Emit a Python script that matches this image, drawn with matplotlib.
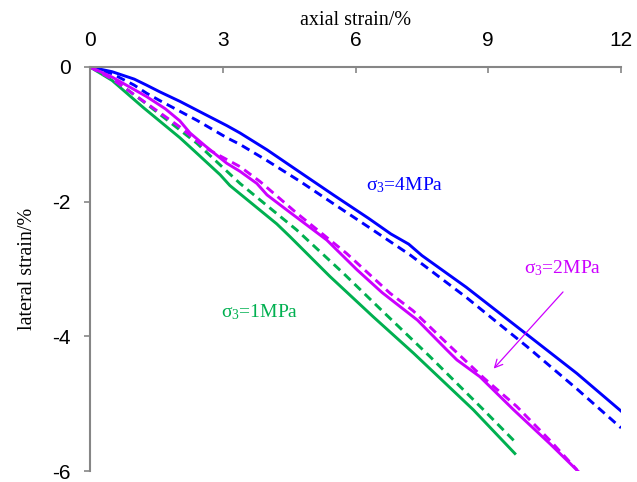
import matplotlib
matplotlib.use('Agg')
import matplotlib.pyplot as plt

plt.rcParams['axes.unicode_minus'] = False
plt.rcParams['mathtext.fontset'] = 'custom'
plt.rcParams['mathtext.rm'] = 'Liberation Serif'
plt.rcParams['mathtext.it'] = 'Liberation Serif:italic'

# axial strain (%) vs lateral strain (%), solid and dashed curves per confining pressure
x_4_solid = [0, 0.5, 1.0, 1.28, 1.58, 2.03, 2.5, 3.09, 3.39, 4.0, 4.67, 5.5, 6.3, 6.8, 7.2, 7.5, 8.5, 9.79, 11.0, 12.0]
y_4_solid = [0, -0.07, -0.18, -0.27, -0.37, -0.51, -0.67, -0.87, -0.98, -1.23, -1.53, -1.90, -2.25, -2.48, -2.63, -2.80, -3.27, -3.93, -4.55, -5.11]
x_4_dash = [0, 0.5, 1.0, 1.28, 1.58, 2.41, 3.09, 3.39, 4.0, 4.75, 5.5, 6.3, 7.23, 8.5, 9.87, 11.0, 12.0]
y_4_dash = [0, -0.10, -0.27, -0.39, -0.50, -0.79, -1.05, -1.15, -1.39, -1.70, -2.03, -2.38, -2.79, -3.42, -4.15, -4.78, -5.36]

x_2_solid = [0, 0.5, 1.28, 1.7, 2.03, 2.26, 2.6, 3.09, 3.39, 3.77, 4.0, 4.44, 5.35, 6.03, 6.6, 7.4, 8.06, 8.29, 8.81, 9.57, 10.4, 11.07]
y_2_solid = [0, -0.15, -0.44, -0.62, -0.80, -0.98, -1.17, -1.43, -1.55, -1.73, -1.90, -2.12, -2.57, -3.01, -3.35, -3.76, -4.20, -4.35, -4.60, -5.09, -5.60, -6.03]
x_2_dash = [0, 0.5, 1.28, 2.03, 2.6, 3.39, 3.84, 4.67, 5.80, 6.78, 7.3, 8.06, 8.9, 9.64, 10.4, 11.0]
y_2_dash = [0, -0.18, -0.54, -0.89, -1.20, -1.48, -1.70, -2.17, -2.77, -3.36, -3.62, -4.10, -4.62, -5.04, -5.55, -5.98]

x_1_solid = [0, 0.5, 1.2, 2.03, 2.33, 2.94, 3.16, 4.22, 4.52, 5.42, 6.40, 7.31, 8.66, 9.6]
y_1_solid = [0, -0.20, -0.60, -1.05, -1.23, -1.60, -1.76, -2.33, -2.52, -3.11, -3.71, -4.25, -5.09, -5.74]
x_1_dash = [0, 0.5, 1.28, 2.41, 3.39, 4.67, 5.72, 6.60, 7.68, 8.89, 9.64]
y_1_dash = [0, -0.17, -0.55, -1.13, -1.73, -2.42, -3.06, -3.62, -4.30, -5.09, -5.59]

blue = '#0000FF'
magenta = '#CC00FF'
green = '#00B050'

fig = plt.figure(figsize=(6.37, 4.82), dpi=100)
ax = fig.add_axes([0.1413, 0.0228, 0.8337, 0.8382])

lw = 2.1
dash = (0, (3.0, 1.9))
ax.plot(x_4_solid, y_4_solid, color=blue, lw=lw)
ax.plot(x_4_dash, y_4_dash, color=blue, lw=lw, linestyle=dash)
ax.plot(x_1_solid, y_1_solid, color=green, lw=lw)
ax.plot(x_1_dash, y_1_dash, color=green, lw=lw, linestyle=dash)
ax.plot(x_2_solid, y_2_solid, color=magenta, lw=lw)
ax.plot(x_2_dash, y_2_dash, color=magenta, lw=lw, linestyle=dash)

serif = 'Liberation Serif'
ax.text(7.12, -1.75, r'σ$_3$=4MPa', color=blue, fontsize=14, family=serif, ha='center', va='center')
ax.text(10.69, -2.99, r'σ$_3$=2MPa', color=magenta, fontsize=14, family=serif, ha='center', va='center')
ax.text(3.84, -3.64, r'σ$_3$=1MPa', color=green, fontsize=14, family=serif, ha='center', va='center')
ax.annotate('', xy=(9.08, -4.51), xytext=(10.73, -3.31),
            arrowprops=dict(arrowstyle='->', color=magenta, lw=0.9, mutation_scale=14))

ax.set_xlim(0, 12)
ax.set_ylim(-6, 0)
ax.set_xticks([0, 3, 6, 9, 12])
ax.set_yticks([0, -2, -4, -6])
ax.xaxis.tick_top()
ax.xaxis.set_label_position('top')
ax.set_xlabel('axial strain/%', family=serif, fontsize=14.5, labelpad=4)
ax.set_ylabel('lateral strain/%', family=serif, fontsize=14.5, labelpad=11)

ax.tick_params(axis='x', direction='in', length=4.3, color='#868686', width=1.2,
               labelsize=15, pad=12.5)
ax.tick_params(axis='y', direction='out', length=4, color='#868686', width=1.2,
               labelsize=15, pad=10)
for lab in ax.get_xticklabels() + ax.get_yticklabels():
    lab.set_family('Liberation Sans')

for side in ['bottom', 'right']:
    ax.spines[side].set_visible(False)
for side in ['top', 'left']:
    ax.spines[side].set_color('#868686')
    ax.spines[side].set_linewidth(1.5)

fig.savefig('out.png', dpi=100)
